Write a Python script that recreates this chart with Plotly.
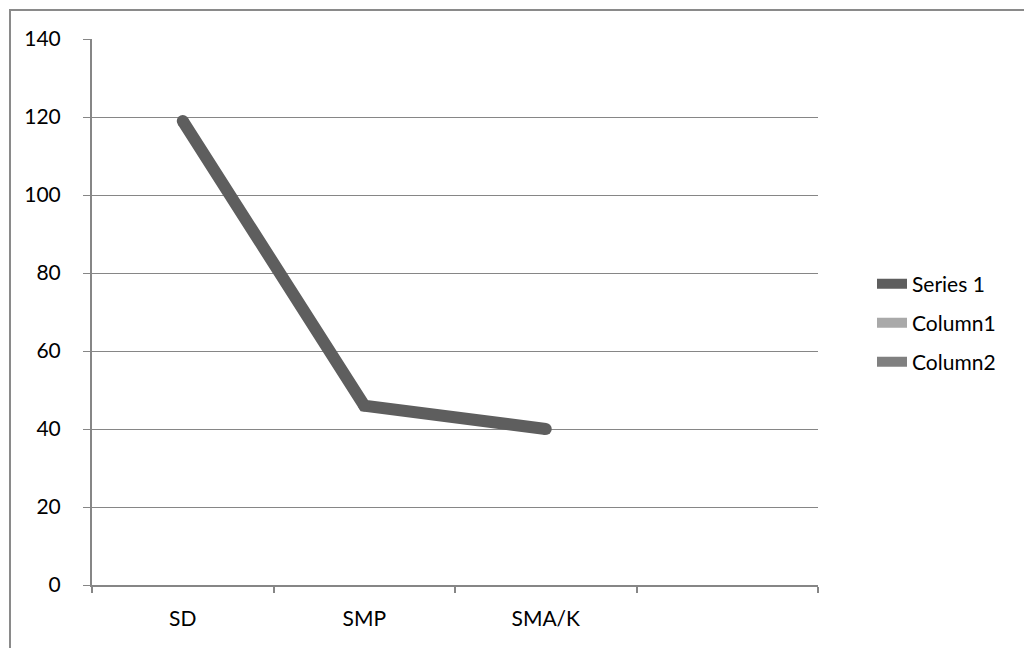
import plotly.graph_objects as go

categories = ["SD", "SMP", "SMA/K", " "]
series1 = [119, 46, 40]
legend_names = ["Series 1", "Column1", "Column2"]
legend_colors = ["#5e5e5e", "#a9a9a9", "#808080"]
y_ticks = [0, 20, 40, 60, 80, 100, 120, 140]

FONT = "Lato"
FS = 21

# page body has an 8px default margin; plot area in screen px: x 92..818, y 39..585
L, T = 84, 31
PW, PH = 726, 546

fig = go.Figure()
fig.add_trace(go.Scatter(
    x=categories[:3], y=series1, mode="lines", name=legend_names[0],
    line=dict(color=legend_colors[0], width=12), legend="legend",
))
fig.add_trace(go.Scatter(
    x=categories[:3], y=series1, mode="markers", showlegend=False,
    marker=dict(color=legend_colors[0], size=12, line=dict(width=0)),
    hoverinfo="skip",
))
fig.add_trace(go.Scatter(
    x=[None], y=[None], mode="lines", name=legend_names[1],
    line=dict(color=legend_colors[1], width=10), legend="legend2",
))
fig.add_trace(go.Scatter(
    x=[None], y=[None], mode="lines", name=legend_names[2],
    line=dict(color=legend_colors[2], width=10), legend="legend3",
))

leg_common = dict(font=dict(family=FONT, size=FS, color="#000000"),
                  bgcolor="rgba(0,0,0,0)", xanchor="left", yanchor="middle",
                  x=(872 - 92) / PW)

fig.update_layout(
    width=1032, height=648,
    margin=dict(l=L, r=1032 - L - PW, t=T, b=648 - T - PH),
    paper_bgcolor="white", plot_bgcolor="white",
    font=dict(family=FONT, size=FS, color="#000000"),
    legend=dict(**leg_common, y=(585 - 284) / PH),
    legend2=dict(**leg_common, y=(585 - 323) / PH),
    legend3=dict(**leg_common, y=(585 - 362) / PH),
    xaxis=dict(
        type="category", categoryorder="array", categoryarray=categories,
        range=[-0.5, 3.5], tickson="boundaries", ticks="outside", ticklen=6,
        tickcolor="#868686", tickwidth=2, showgrid=False,
        showline=True, linecolor="#868686", linewidth=2,
        tickfont=dict(family=FONT, size=FS), fixedrange=True,
        ticklabelstandoff=14,
    ),
    yaxis=dict(
        range=[0, 140], tickvals=y_ticks, ticks="outside", ticklen=7,
        tickcolor="#868686", tickwidth=1, showgrid=True, gridcolor="#868686",
        gridwidth=1, showline=True, linecolor="#868686", linewidth=2,
        zeroline=False, tickfont=dict(family=FONT, size=FS), ticklabelstandoff=18,
    ),
    shapes=[dict(type="rect", xref="paper", yref="paper",
                 x0=(2 - L) / PW, x1=1.6, y0=-0.3, y1=(648 - T - PH + PH - 2) / PH + (T - 0) / PH - (648 - PH - T) / PH,
                 line=dict(color="#8a8a8a", width=2), fillcolor="rgba(0,0,0,0)",
                 layer="below")],
)

fig.write_html("out.html")
